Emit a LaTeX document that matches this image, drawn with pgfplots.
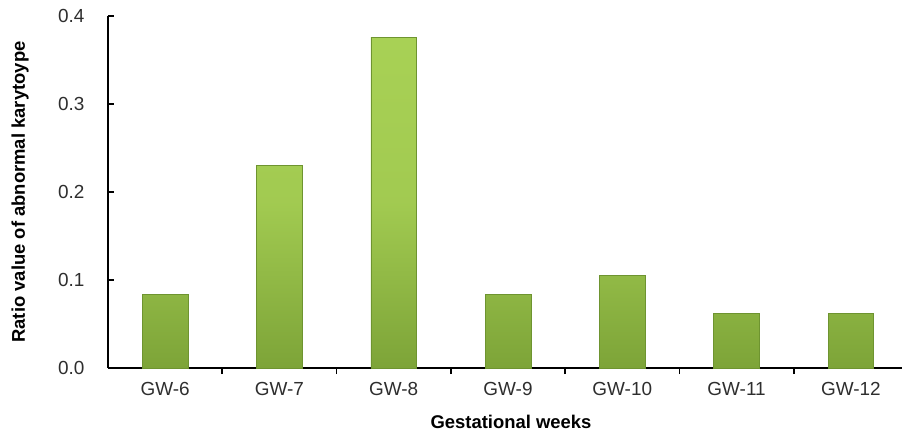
\documentclass[border=0pt]{standalone}
\usepackage{pgfplots}
\pgfplotsset{compat=1.18}
\usepackage{fontspec}
\setmainfont{Liberation Sans}
\definecolor{gtop}{HTML}{A8D155}
\definecolor{gbot}{HTML}{7DA438}
\definecolor{gedge}{HTML}{6E9430}
\definecolor{ticktxt}{HTML}{2E2E2E}
\begin{document}
\begin{tikzpicture}
\begin{axis}[
  scale only axis,
  width=800bp, height=352bp,
  xmin=-0.5, xmax=6.5, ymin=0, ymax=0.4,
  axis x line*=bottom, axis y line*=left,
  axis line style={black, line width=2bp},
  xtick={0,1,2,3,4,5,6},
  xticklabels={GW-6,GW-7,GW-8,GW-9,GW-10,GW-11,GW-12},
  major x tick style={draw=none},
  minor xtick={0.5,1.5,2.5,3.5,4.5,5.5},
  minor x tick style={black, line width=1.6bp},
  minor tick length=6bp,
  ytick={0,0.1,0.2,0.3,0.4},
  major y tick style={black, line width=1.6bp},
  major tick length=6bp,
  tick align=inside,
  /pgf/number format/fixed,
  /pgf/number format/fixed zerofill,
  /pgf/number format/precision=1,
  /pgf/number format/assume math mode=true,
  ticklabel style={font=\fontsize{19}{22}\selectfont, text=ticktxt},
  xticklabel style={yshift=-5bp},
  yticklabel style={xshift=-20bp},
  every axis y label/.style={at={(axis description cs:-0.11,0.5)}, rotate=90, anchor=center},
  every axis x label/.style={at={(axis description cs:0.5,0)}, anchor=center, yshift=-54bp, xshift=3bp},
  label style={font=\bfseries\fontsize{18.5}{21}\selectfont},
  ylabel={Ratio value of abnormal karytoype},
  xlabel={Gestational weeks},
  ybar, bar width=0.4,
]
\addplot[draw=gedge, line width=0.5bp, top color=gtop, bottom color=gbot, middle color=gtop!85!gbot] coordinates {
(0,0.084) (1,0.230) (2,0.376) (3,0.084) (4,0.105) (5,0.062) (6,0.062)};
\end{axis}
\pgfresetboundingbox
\path[use as bounding box] ([xshift=-108bp,yshift=-65bp]current axis.south west) rectangle ([xshift=794bp,yshift=368bp]current axis.south west);
\end{tikzpicture}
\end{document}
